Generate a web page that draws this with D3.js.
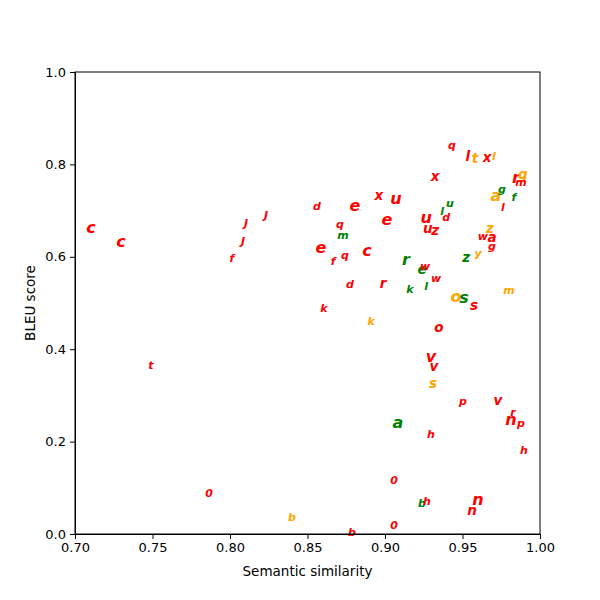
<!DOCTYPE html>
<html lang="en">
    <head>
        <meta charset="utf-8">
        <title>BLEU vs semantic similarity</title>
        <script src="https://cdn.jsdelivr.net/npm/d3@7"></script>
        <style>
            body { margin: 0; background: #fff; }
            .axis text { font-family: "DejaVu Sans", sans-serif; font-size: 13px; fill: #000; }
            .axis path, .axis line { stroke: #000; stroke-width: 1; }
            .label { font-family: "DejaVu Sans", sans-serif; font-size: 13.5px; fill: #000; }
            .mark { font-family: "DejaVu Sans", sans-serif; font-weight: bold; font-style: oblique; }
        </style>
    </head>
    <body>
        <script type="text/javascript">

            // letters drawn as markers
            var letters = ["c","c","t","f","J","J","J","d","e","x",
                           "u","q","m","e","e","f","q","c","r","d",
                           "r","k","k","k","q","l","t","x","l","x",
                           "r","g","m","a","g","f","l","u","l","d",
                           "u","u","z","z","w","a","g","z","y","e",
                           "w","w","l","o","s","s","m","o","v","v",
                           "s","p","v","n","r","p","h","a","h","0",
                           "b","b","0","0","b","h","n","n"];

            // group of each letter (red / orange / green)
            var groups = ["r","r","r","r","r","r","r","r","r","r",
                          "r","r","g","r","r","r","r","r","g","r",
                          "r","g","r","o","r","r","o","r","o","r",
                          "r","o","r","o","g","g","r","g","g","r",
                          "r","r","r","o","r","r","r","g","o","g",
                          "r","r","g","o","g","r","o","r","r","r",
                          "o","r","r","r","r","r","r","g","r","r",
                          "o","r","r","r","g","r","r","r"];

            // semantic similarity
            var similarity = [0.7103,0.7297,0.7490,0.8013,0.8084,0.8103,0.8232,0.8561,0.8806,0.8961,
                              0.9071,0.8710,0.8729,0.9013,0.8587,0.8665,0.8742,0.8884,0.9135,0.8774,
                              0.8987,0.9161,0.8606,0.8910,0.9432,0.9535,0.9580,0.9658,0.9703,0.9323,
                              0.9845,0.9890,0.9877,0.9716,0.9755,0.9832,0.9761,0.9419,0.9368,0.9394,
                              0.9265,0.9277,0.9323,0.9677,0.9632,0.9690,0.9690,0.9523,0.9600,0.9239,
                              0.9258,0.9329,0.9265,0.9458,0.9510,0.9574,0.9800,0.9348,0.9297,0.9316,
                              0.9310,0.9503,0.9729,0.9813,0.9826,0.9877,0.9897,0.9084,0.9297,0.7865,
                              0.8400,0.8787,0.9058,0.9058,0.9239,0.9271,0.9600,0.9561];

            // BLEU score
            var bleu = [0.6645,0.6340,0.3640,0.5970,0.6340,0.6710,0.6900,0.7080,0.7100,0.7340,
                        0.7270,0.6690,0.6470,0.6800,0.6210,0.5890,0.6020,0.6130,0.5950,0.5410,
                        0.5430,0.5300,0.4890,0.4590,0.8400,0.8180,0.8140,0.8160,0.8180,0.7750,
                        0.7710,0.7790,0.7600,0.7320,0.7450,0.7290,0.7060,0.7160,0.6970,0.6860,
                        0.6860,0.6620,0.6580,0.6620,0.6450,0.6430,0.6230,0.6000,0.6080,0.5740,
                        0.5780,0.5520,0.5350,0.5150,0.5110,0.4960,0.5280,0.4480,0.3850,0.3640,
                        0.3270,0.2860,0.2900,0.2470,0.2620,0.2400,0.1800,0.2420,0.2160,0.0870,
                        0.0350,0.0040,0.1150,0.0190,0.0650,0.0710,0.0740,0.0520];

            // weight of each letter (1 small .. 3 large)
            var weights = [3,3,1,1,1,1,1,1,3,2,
                           3,1,1,3,3,1,1,3,3,1,
                           2,1,1,1,1,2,2,2,1,2,
                           3,2,1,3,1,1,1,1,1,1,
                           3,2,2,2,1,2,1,2,1,2,
                           1,1,1,3,3,2,1,2,3,2,
                           2,1,2,3,1,1,1,3,1,1,
                           1,1,1,1,1,1,3,2];

            var xTicks = [0.70,0.75,0.80,0.85,0.90,0.95,1.00];
            var yTicks = [0.0,0.2,0.4,0.6,0.8,1.0];

            var w = 600;
            var h = 600;
            var margin = {top: 72, right: 60, bottom: 66, left: 75};

            var svg = d3.select("body")
                        .append("svg")
                        .attr("width", w)
                        .attr("height", h);

            var xScale = d3.scaleLinear()
                           .domain([0.70, 1.00])
                           .range([margin.left, w - margin.right]);

            var yScale = d3.scaleLinear()
                           .domain([0, 1])
                           .range([h - margin.bottom, margin.top]);

            var sizeScale = d3.scaleLinear()
                              .domain([1, 3])
                              .range([11, 16]);

            var colour = d3.scaleOrdinal()
                           .domain(["r", "o", "g"])
                           .range(["#ff0000", "#ffa500", "#008000"]);

            // the letters
            svg.selectAll(".mark")
               .data(letters)
               .enter()
               .append("text")
               .attr("class", "mark")
               .attr("x", function(d, i) { return xScale(similarity[i]); })
               .attr("y", function(d, i) { return yScale(bleu[i]); })
               .attr("text-anchor", "middle")
               .attr("dominant-baseline", "central")
               .attr("font-size", function(d, i) { return sizeScale(weights[i]) + "px"; })
               .attr("fill", function(d, i) { return colour(groups[i]); })
               .text(function(d) { return d; });

            // frame
            svg.append("rect")
               .attr("x", margin.left)
               .attr("y", margin.top)
               .attr("width", w - margin.left - margin.right)
               .attr("height", h - margin.top - margin.bottom)
               .attr("fill", "none")
               .attr("stroke", "#000")
               .attr("stroke-width", 1);

            // x axis
            svg.append("g")
               .attr("class", "axis")
               .attr("transform", "translate(0," + (h - margin.bottom) + ")")
               .call(d3.axisBottom(xScale).tickValues(xTicks).tickSize(5).tickPadding(4)
                       .tickFormat(d3.format(".2f")));

            // y axis
            svg.append("g")
               .attr("class", "axis")
               .attr("transform", "translate(" + margin.left + ",0)")
               .call(d3.axisLeft(yScale).tickValues(yTicks).tickSize(5).tickPadding(4)
                       .tickFormat(d3.format(".1f")));

            // axis labels
            svg.append("text")
               .attr("class", "label")
               .attr("x", (margin.left + w - margin.right) / 2)
               .attr("y", h - 24)
               .attr("text-anchor", "middle")
               .text("Semantic similarity");

            svg.append("text")
               .attr("class", "label")
               .attr("transform", "rotate(-90)")
               .attr("x", -(margin.top + h - margin.bottom) / 2)
               .attr("y", 35)
               .attr("text-anchor", "middle")
               .text("BLEU score");
        </script>
    </body>
</html>
